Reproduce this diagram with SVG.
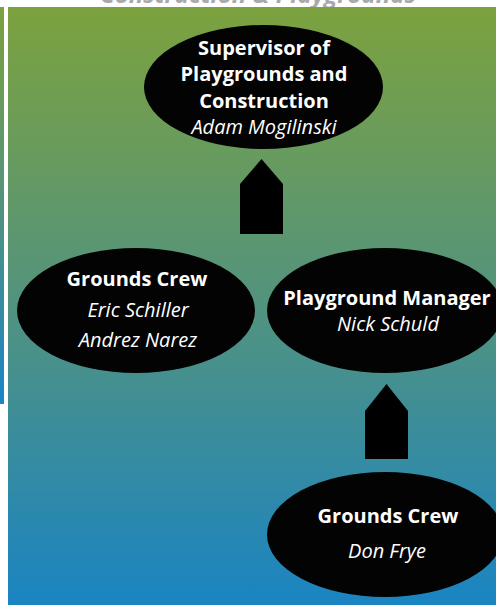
<svg xmlns="http://www.w3.org/2000/svg" width="496" height="605" viewBox="0 0 496 605">
<defs>
<linearGradient id="bg" x1="0" y1="0" x2="0" y2="1">
<stop offset="0" stop-color="#7ca23e"/>
<stop offset="0.5" stop-color="#52937f"/>
<stop offset="1" stop-color="#1a84c2"/>
</linearGradient>
<linearGradient id="strip" x1="0" y1="0" x2="0" y2="1">
<stop offset="0" stop-color="#7ca23e"/>
<stop offset="0.5" stop-color="#52937f"/>
<stop offset="1" stop-color="#1a84c8"/>
</linearGradient>
<style>
.node ellipse{fill:#030303}
.b{font-family:"Open Sans","Noto Sans",sans-serif;font-weight:bold;font-size:20px;fill:#fff;text-anchor:middle}
.i{font-family:"Open Sans","Noto Sans",sans-serif;font-style:italic;font-size:20px;fill:#fff;text-anchor:middle}
.arrow{fill:#000}
.title{font-family:"Open Sans","Noto Sans",sans-serif;font-weight:bold;font-style:italic;font-size:24px;fill:#a9a9a9;text-anchor:middle}
</style>
</defs>
<rect x="0" y="0" width="496" height="605" fill="#fff"/>
<text class="title" x="258" y="3">Construction &amp; Playgrounds</text>
<rect x="0" y="7" width="4" height="397" fill="url(#strip)"/>
<rect x="8" y="7" width="488" height="598" fill="url(#bg)"/>
<g id="connectors">
<polygon class="arrow" points="240,184 261.5,159 283,184 283,234 240,234"/>
<polygon class="arrow" points="365,411 386.5,384 408,411 408,459 365,459"/>
</g>
<g id="supervisor" class="node">
<ellipse cx="263.5" cy="87" rx="119.5" ry="62"/>
<text class="b" x="264" y="55">Supervisor of</text>
<text class="b" x="264" y="81">Playgrounds and</text>
<text class="b" x="264" y="108">Construction</text>
<text class="i" x="264" y="134">Adam Mogilinski</text>
</g>
<g id="grounds-crew-1" class="node">
<ellipse cx="136" cy="310.5" rx="119" ry="62.5"/>
<text class="b" x="137" y="286">Grounds Crew</text>
<text class="i" x="138" y="317">Eric Schiller</text>
<text class="i" x="138" y="347">Andrez Narez</text>
</g>
<g id="playground-manager" class="node">
<ellipse cx="385" cy="310.5" rx="118" ry="62.5"/>
<text class="b" x="387" y="305">Playground Manager</text>
<text class="i" x="388" y="331">Nick Schuld</text>
</g>
<g id="grounds-crew-2" class="node">
<ellipse cx="385" cy="534.5" rx="118" ry="62.5"/>
<text class="b" x="388" y="523">Grounds Crew</text>
<text class="i" x="387" y="558">Don Frye</text>
</g>
</svg>
